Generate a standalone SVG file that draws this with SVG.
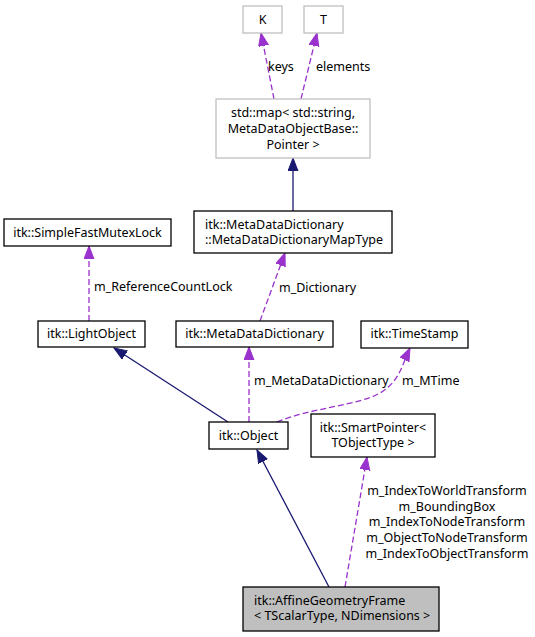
<svg xmlns="http://www.w3.org/2000/svg" width="535" height="637" viewBox="0 0 535 637">
<style>
text{font-family:"Noto Sans","DejaVu Sans",sans-serif;font-size:12.5px;fill:#000}
.n rect{fill:#fff;stroke:#000;stroke-width:1.3}
.n.g rect{stroke:#bfbfbf}
.n.hl rect{fill:#bfbfbf}
.m{text-anchor:middle}
.inh{stroke:#191970;stroke-width:1.3;fill:none;marker-end:url(#ai)}
.use{stroke:#9a32cd;stroke-width:1.3;fill:none;stroke-dasharray:6,3;marker-end:url(#au)}
</style>
<defs>
<marker id="ai" markerUnits="userSpaceOnUse" markerWidth="14" markerHeight="11" refX="13" refY="5" orient="auto"><path d="M0,0 L13,5 L0,10 z" fill="#191970" stroke="#191970"/></marker>
<marker id="au" markerUnits="userSpaceOnUse" markerWidth="14" markerHeight="11" refX="13" refY="5" orient="auto"><path d="M0,0 L13,5 L0,10 z" fill="#9a32cd" stroke="#9a32cd"/></marker>
</defs>
<rect width="535" height="637" fill="#fff"/>
<g id="edges">
<line class="inh" x1="293" y1="211" x2="293" y2="158"/>
<line class="use" x1="274" y1="99" x2="261" y2="33"/>
<line class="use" x1="301" y1="99" x2="317" y2="33"/>
<line class="use" x1="260" y1="321" x2="285" y2="253"/>
<line class="use" x1="89" y1="321" x2="89" y2="246"/>
<line class="inh" x1="228" y1="422" x2="114" y2="348"/>
<line class="use" x1="249" y1="422" x2="249" y2="347"/>
<path class="use" d="M277,422 C310,408 360,405 380,393 S402,365 410,348"/>
<line class="inh" x1="329" y1="587" x2="257" y2="450"/>
<line class="use" x1="345" y1="587" x2="367" y2="457"/>
<text x="268" y="71">keys</text>
<text x="316" y="71">elements</text>
<text x="279" y="292">m_Dictionary</text>
<text x="94" y="291">m_ReferenceCountLock</text>
<text x="254" y="385">m_MetaDataDictionary</text>
<text x="402" y="385">m_MTime</text>
<text class="m" x="447" y="495">m_IndexToWorldTransform</text>
<text class="m" x="447" y="511">m_BoundingBox</text>
<text class="m" x="447" y="526">m_IndexToNodeTransform</text>
<text class="m" x="447" y="542">m_ObjectToNodeTransform</text>
<text class="m" x="447" y="558">m_IndexToObjectTransform</text>
</g>
<g id="K" class="n g"><rect x="243" y="6" width="39" height="27"/><text class="m" x="262.5" y="24">K</text></g>
<g id="T" class="n g"><rect x="304" y="6" width="39" height="27"/><text class="m" x="323.5" y="24">T</text></g>
<g id="stdmap" class="n g"><rect x="216" y="99" width="154" height="59"/><text class="m" x="293" y="117">std::map&lt; std::string,</text><text class="m" x="293" y="133">MetaDataObjectBase::</text><text class="m" x="293" y="149">Pointer &gt;</text></g>
<g id="MapType" class="n"><rect x="194" y="211" width="198" height="42"/><text x="205" y="229">itk::MetaDataDictionary</text><text x="205" y="244">::MetaDataDictionaryMapType</text></g>
<g id="SimpleFastMutexLock" class="n"><rect x="4" y="219" width="167" height="27"/><text class="m" x="87.5" y="237">itk::SimpleFastMutexLock</text></g>
<g id="LightObject" class="n"><rect x="38" y="321" width="107" height="26"/><text class="m" x="91.5" y="338">itk::LightObject</text></g>
<g id="MetaDataDictionary" class="n"><rect x="176" y="321" width="157" height="26"/><text class="m" x="254.5" y="338">itk::MetaDataDictionary</text></g>
<g id="TimeStamp" class="n"><rect x="361" y="321" width="107" height="27"/><text class="m" x="414.5" y="338">itk::TimeStamp</text></g>
<g id="Object" class="n"><rect x="209" y="422" width="79" height="27"/><text class="m" x="248.5" y="440">itk::Object</text></g>
<g id="SmartPointer" class="n"><rect x="311" y="414" width="124" height="43"/><text class="m" x="373" y="432">itk::SmartPointer&lt;</text><text class="m" x="373" y="447">TObjectType &gt;</text></g>
<g id="AffineGeometryFrame" class="n hl"><rect x="243" y="587" width="196" height="44"/><text x="254" y="605">itk::AffineGeometryFrame</text><text x="254" y="620">&lt; TScalarType, NDimensions &gt;</text></g>
</svg>
